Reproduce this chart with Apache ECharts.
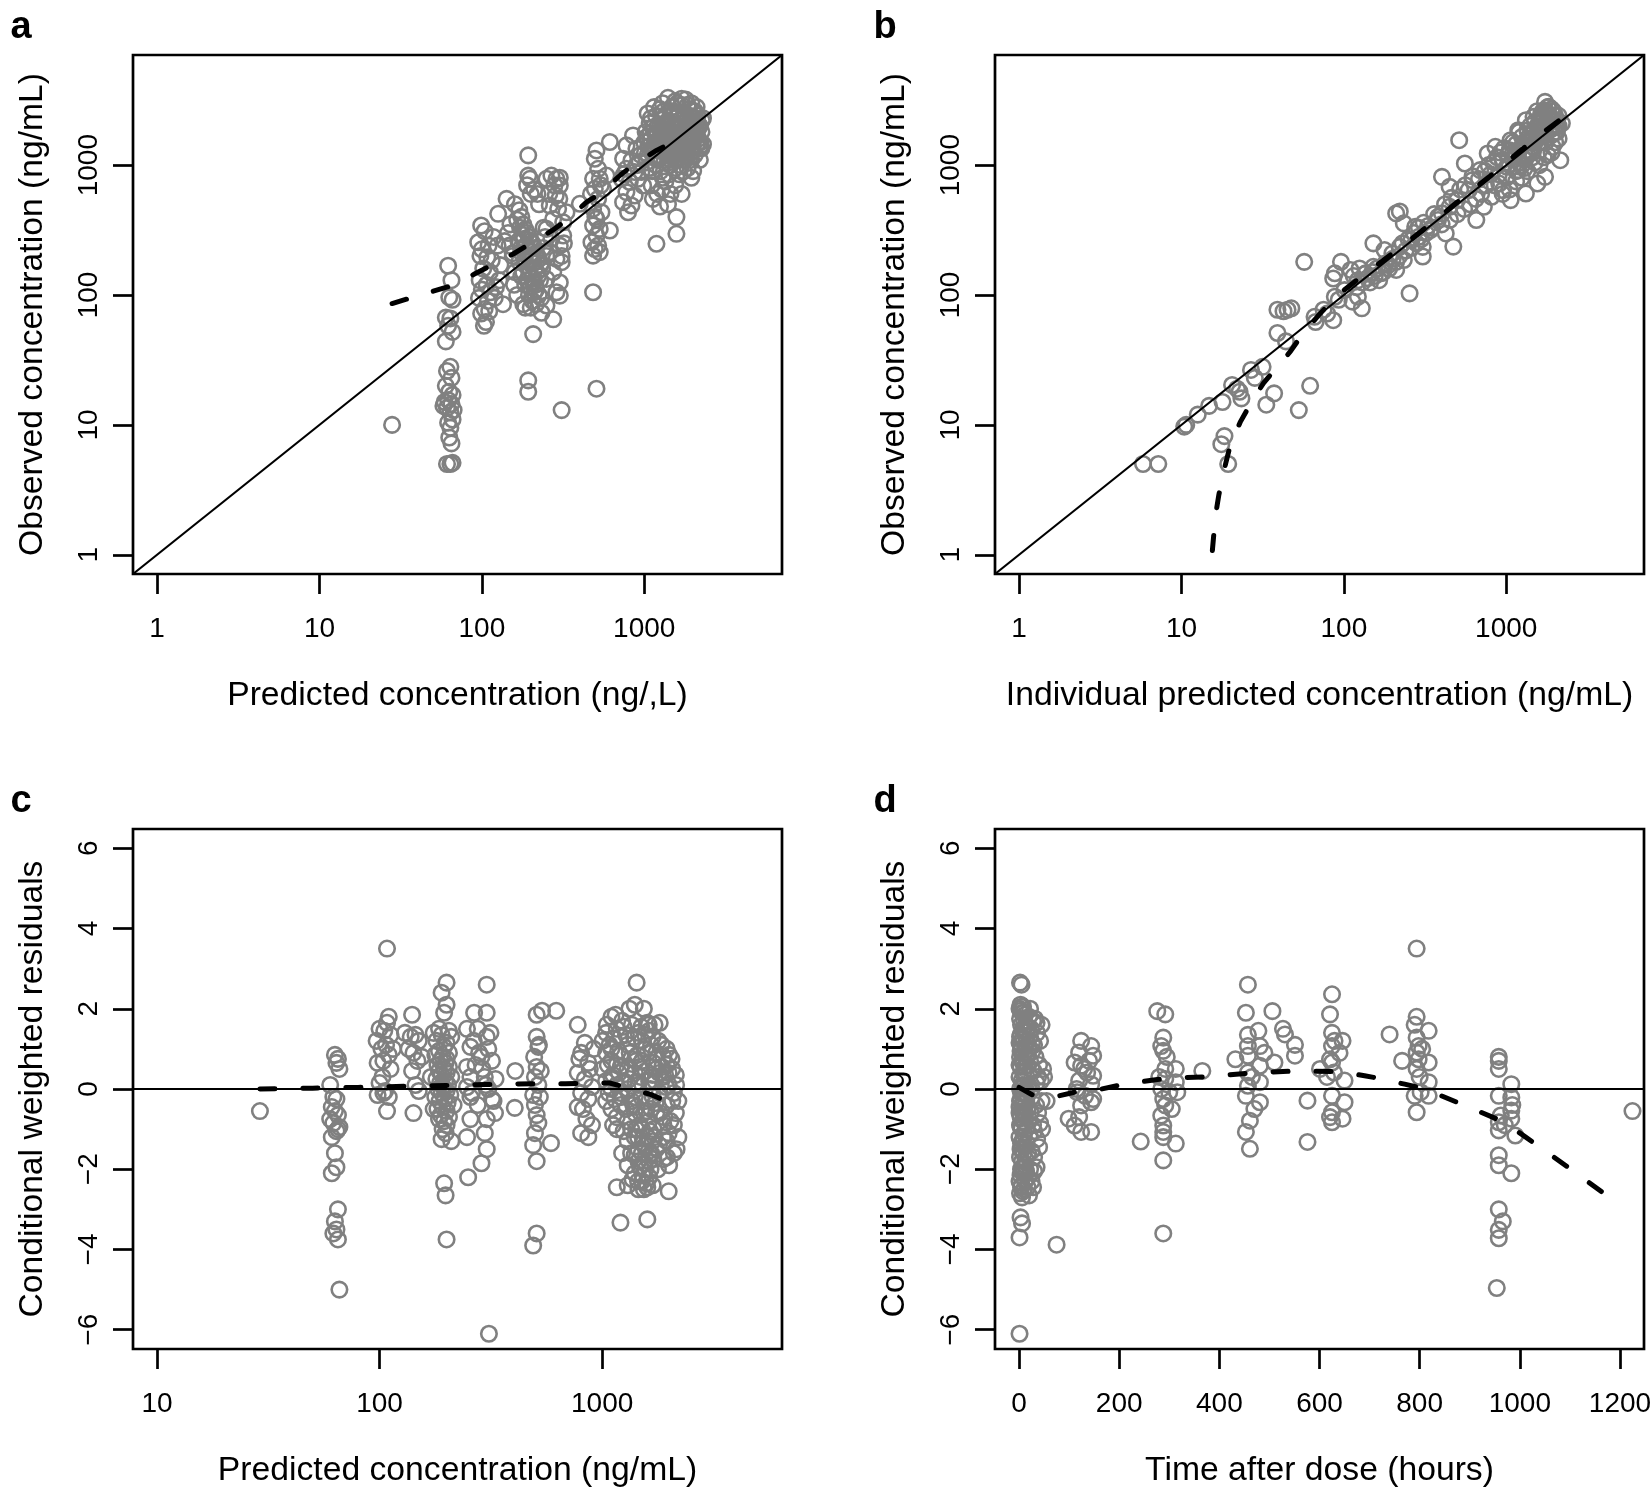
<!DOCTYPE html>
<html>
<head>
<meta charset="utf-8">
<script src="https://cdn.jsdelivr.net/npm/echarts@6/dist/echarts.min.js"></script>
<style>
html,body{margin:0;padding:0;background:#fff;}
#chart{width:1652px;height:1491px;}
</style>
</head>
<body>
<div id="chart"></div>
<script>
// ---------- tick labels ----------
const logTicksAB = [1, 10, 100, 1000];
const logTicksC = [10, 100, 1000];
const residTicks = [-6, -4, -2, 0, 2, 4, 6];
const timeTicks = [0, 200, 400, 600, 800, 1000, 1200];

// ---------- axis ranges ----------
const concRange = [0.711, 7050];
const cPredRange = [7.8, 6430];
const residRange = [-6.48, 6.48];
const timeRange = [-48, 1248];

// ---------- panel a: predicted vs observed ----------
const aPoints = [
[28,10],
[62,168],[65,130],[63,96],[66,92],[60,67],[64,66],[62,58],[66,52],[60,44],[64,28],[61,26],[65,23],[60,20],[63,18],[66,17],[59,15],[62,15.5],[65,14.5],[61,13.5],[64,12.5],[66,11],[62,10.4],[64,9.5],[63,8],[65,7.2],[61,5],[64,5],[66,5.1],[58,14],[67,13],
[99,343],[104,310],[126,422],[142,550],[95,255],[100,225],[110,240],[98,200],[108,195],[115,185],[102,160],[112,150],[97,130],[107,120],[100,110],[113,105],[96,95],[109,90],[104,78],[111,75],[99,72],[106,62],[103,58],[118,280],[125,240],[130,170],[128,130],[122,115],[120,95],[135,85],[150,350],[145,300],[138,260],[148,240],[155,210],
[160,500],[170,450],[175,400],[180,350],[185,320],[190,300],[195,280],[200,260],[205,250],[210,230],[215,210],[220,200],[225,190],[230,170],[235,160],[165,380],[172,330],[178,290],[182,270],[188,240],[192,220],[198,200],[202,185],[208,175],[212,160],[218,150],[222,140],[228,130],[168,260],[174,230],[176,210],[184,190],[186,170],[194,160],[196,145],[204,135],[206,125],[214,120],[216,110],[224,100],[232,95],[170,180],[180,150],[190,130],[200,115],[210,105],[175,140],[185,120],[195,100],[205,90],[215,85],[165,100],[180,85],[160,150],[155,200],[158,120],[200,600],[190,700],[210,650],[193,1190],[193,830],[198,785],[240,330],[245,280],[250,200],[238,230],[185,80],[200,80],[220,600],[225,500],
[250,785],[268,832],[288,785],[302,800],[302,697],[285,584],[262,489],[295,461],[275,385],[317,363],[250,323],[268,271],[302,240],[262,214],[288,190],[310,179],[275,150],[250,133],[302,125],[288,105],[250,83],[275,65],[233,73],[302,99],[317,287],[332,434],[280,700],[300,550],[260,600],[320,250],[310,200],
[310,13],[193,22],[193,18],[207,50],
[508,1298],[496,1120],[520,937],[484,785],[532,785],[496,657],[558,657],[520,550],[484,461],[545,434],[508,385],[484,343],[532,323],[508,287],[473,255],[520,240],[496,226],[532,214],[484,201],[614,1507],[401,504],[614,314],[484,105],[508,19],[585,832],[470,600],[540,700],[500,400],
[853,1694],[777,1420],[895,1339],[741,1120],[834,1087],[938,1057],[777,937],[873,885],[724,785],[814,741],[916,785],[777,620],[873,584],[741,519],[834,489],[795,434],[960,885],[984,697],[900,1000],[950,1200],[750,850],
[1000,1500],[1020,1800],[1050,1200],[1080,2100],[1100,1600],[1120,900],[1150,1350],[1180,2400],[1200,1700],[1220,1100],[1250,2000],[1280,1450],[1300,800],[1320,2600],[1350,1900],[1380,1250],[1400,2200],[1420,1550],[1450,1000],[1480,2800],[1500,1800],[1520,1300],[1550,2300],[1580,1650],[1600,1150],[1620,2500],[1650,1950],[1680,1400],[1700,2900],[1720,2100],[1750,1600],[1780,1200],[1800,2400],[1820,1800],[1850,1350],[1880,2700],[1900,2000],[1920,1500],[1950,2300],[1980,1700],[2000,2600],[2050,1900],[2100,2200],[2150,1600],[2200,2000],[2250,1800],[2300,1450],[1030,1050],[1060,1400],[1090,1750],[1130,1950],[1160,1500],[1190,1150],[1230,1350],[1260,1650],[1290,2250],[1330,1050],[1360,1500],[1390,1750],[1430,1300],[1460,2050],[1490,1150],[1530,1550],[1560,950],[1590,2000],[1630,1350],[1660,1750],[1690,1000],[1730,1450],[1760,2500],[1790,1550],[1830,1150],[1860,1650],[1890,2150],[1930,1250],[1960,1900],[1990,1400],[2080,1650],[2130,2400],[2180,1350],[1110,700],[1200,600],[1280,650],[1350,750],[1450,600],[1550,700],[1650,850],[1750,900],[1850,950],[1950,1100],[2050,1200],[1400,3300],[1550,3100],[1800,3200],[1950,3000],[1150,2800],[1300,3000],[2100,2800],[1050,2500],[1950,800],[2200,1100],[1189,248],[1578,296],[1578,398],[1130,550],[1250,480],[1400,500],[1700,600],[2000,900],
[1010,1250],[1040,1650],[1070,950],[1100,2300],[1140,1150],[1170,1750],[1210,2000],[1240,1500],[1270,1150],[1310,1700],[1340,2400],[1370,1600],[1410,1050],[1440,1800],[1470,1400],[1510,2500],[1540,1900],[1570,1400],[1610,1700],[1640,2200],[1670,1550],[1710,1250],[1740,1900],[1770,2300],[1810,1400],[1840,2000],[1870,1550],[1910,2400],[1940,1650],[1970,2100],[2020,1750],[2060,2300],[2110,1800],[2160,2050],[2210,1500],[2260,2200],[1120,1300],[1180,1000],[1260,900],[1340,1400],[1420,850],[1500,1250],[1580,1100],[1660,1300],[1740,1100],[1820,1300],[1900,1150],[2000,1300],[2100,1450],[2250,1350],[1600,3000],[1700,3250],[1450,2600],[1250,2700],[1850,2900],[2050,2600],[2300,2300]
];
const aSmooth = [[28,86],[65,118],[90,145],[156,207],[197,247],[270,313],[330,374],[441,519],[532,601],[707,832],[873,1025],[1189,1298],[1507,1507]];

// ---------- panel b: individual predicted vs observed ----------
const bPoints = [
[5.8,5],[7.2,5],[10.4,9.7],[10.7,10],[12.6,12],[14.8,14],[17.9,15],[18.4,8.2],[17.6,7.1],[19.4,5],
[20.5,20.3],[22.8,18],[23.4,16],[22,19],[26.8,26.5],[31.6,28],[28.3,23],[33.3,14.3],[37.2,17.5],[62,20],[52.8,13],
[39,77],[42.5,75],[45,77],[47.5,79],[39,51],[44,44],[57,180],
[66,68],[67,62],[75,77],[86,64],[79,72],[88,97],[93,92],[101,109],[113,89],[129,79],[122,97],
[86,134],[88,147],[96,180],[110,156],[122,130],[152,250],[254,103],
[136,147],[152,165],[169,147],[188,170],[210,156],[234,186],[199,209],[178,222],[221,235],[261,265],[290,281],[234,356],[210,425],[221,440],[275,335],[306,235],[306,198],[341,316],[380,378],[402,425],[448,478],[424,298],[472,236],[402,813],[448,680],[499,538],[556,1030],[587,642],[620,767],[690,915],[654,378],[769,1230],[857,1384],[728,478],[812,571],[904,722],[1009,971],[1123,1159],[1064,1556],[1186,1859],[1321,2219],[1472,2354],[1641,2497],[1733,3070],[1829,2811],[2037,1972],[1930,1384],[2151,1092],[1733,813],[1555,722],[1321,605],[1186,915],[1064,538],[955,642],[513,1556],
[1100,1100],[1200,1300],[1300,1500],[1400,1700],[1500,1900],[1600,2100],[1700,2300],[1800,2500],[1900,2700],[2000,2400],[2100,2000],[1250,1000],[1350,1200],[1450,1400],[1550,1600],[1650,1800],[1750,2000],[1850,2200],[1950,2200],[1150,900],[1300,950],[1450,1150],[1600,1300],[1750,1500],[1900,1700],[2050,1800],[1000,800],[950,1100],[900,850],[1050,1300],[1150,1450],[1250,1650],[1350,1850],[1500,2150],[1650,2400],[1800,2800],[1700,2650],[1550,2600],[1400,2000],[1200,1800],[1100,1500],[1600,1000],[1800,1200],[2000,1500],[2100,1600],[1900,1250],[1700,1150],[1500,1050],[1350,900],[1250,800],[1150,750],[1050,650],[950,600],[850,700],[800,850],[750,700],[700,600],[650,550],[600,500],[550,460],[500,420],[450,380],[400,350],[350,330],[320,300],[300,270],[280,250],[260,230],[240,220],[220,200],[200,190],[180,175],[160,160],[150,150],[140,135],[130,125],[120,115],[115,140],[125,160],[135,145],[145,125],[155,140],[165,130],[175,150],[190,160],[210,180],[230,250],[250,270],[270,300],[290,330],[310,360],[330,340],[360,420],[380,400],[420,500],[460,560],[520,650],[560,700],[620,820],[680,780],[740,900],[780,1000],[840,1050],[880,1150],[920,1250],[970,1350],[1030,1200],
[1300,1200],[1400,1300],[1500,1500],[1600,1700],[1700,1900],[1800,2100],[1900,2300],[2000,2000],[2100,2400],[2200,2100],[1250,1400],[1150,1200],[1050,1000],[1450,1800],[1550,2000],[1650,2200],[1750,2600],[1850,2400],[1950,2600],[2050,2200],[1350,1600],[1450,1250],[1600,1500],[1750,1700],[1900,1900],[2000,1800],[1100,1250],[1200,1050],[1300,1100],[1400,1500]
];
const bSmooth = [[15.5,1.08],[16.2,2],[17,2.9],[18.3,4.5],[20,7],[23,10.5],[27,15],[32,21],[38,27],[47,37],[55,49],[70,70],[90,98],[120,130],[200,210],[300,310],[500,520],[800,830],[1200,1270],[1700,1800],[2200,2290]];

// ---------- panel c: CWRES vs predicted ----------
const cPoints = [
[29,-0.55],
[63,0.85],[65,0.75],[64,0.65],[66,0.5],[60,0.1],[62,-0.2],[64,-0.25],[61,-0.45],[63,-0.55],[65,-0.65],[60,-0.75],[62,-0.85],[66,-0.95],[64,-1.05],[61,-1.2],[65,-1.0],[63,-1.6],[64,-1.95],[61,-2.1],[65,-3.0],[63,-3.3],[64,-3.5],[65,-3.75],[62,-3.6],[66,-5.0],
[108,3.5],[110,1.8],[108,1.65],[100,1.5],[105,1.45],[112,1.35],[97,1.2],[107,1.1],[102,1.0],[110,0.85],[104,0.7],[98,0.65],[112,0.5],[100,0.15],[106,-0.05],[98,-0.15],[110,-0.2],[104,-0.1],[108,-0.55],[115,1.0],[103,0.3],
[140,1.85],[145,1.35],[138,1.3],[150,1.2],[142,0.9],[148,0.7],[140,0.45],[145,0.1],[150,-0.05],[142,-0.6],[130,1.4],[155,0.8],[135,1.0],
[200,2.65],[190,2.4],[200,2.1],[195,1.9],[185,1.5],[205,1.45],[175,1.4],[190,1.35],[210,1.3],[180,1.2],[200,1.15],[195,1.05],[185,0.95],[205,0.9],[178,0.85],[192,0.8],[200,0.75],[188,0.7],[198,0.65],[182,0.6],[205,0.55],[195,0.5],[185,0.45],[200,0.4],[190,0.35],[210,0.3],[180,0.25],[197,0.2],[187,0.15],[203,0.1],[193,0.05],[183,0.0],[200,-0.05],[190,-0.1],[208,-0.15],[178,-0.2],[196,-0.25],[186,-0.3],[202,-0.35],[192,-0.45],[182,-0.5],[200,-0.55],[188,-0.65],[205,-0.7],[195,-0.8],[185,-0.75],[200,-0.9],[192,-1.0],[198,-1.1],[190,-1.25],[210,-1.3],[195,-2.35],[198,-2.65],[200,-3.75],[215,-0.4],[170,0.3],[175,-0.5],
[266,1.9],[303,2.6],[303,1.9],[247,1.5],[276,1.5],[303,1.3],[256,1.05],[308,1.0],[287,0.8],[247,0.55],[320,0.7],[256,0.3],[297,0.3],[332,0.25],[247,0.05],[308,0.0],[256,-0.2],[320,-0.25],[276,-0.4],[303,-0.75],[256,-0.75],[247,-1.2],[297,-1.1],[303,-1.5],[287,-1.85],[250,-2.2],[310,-6.1],[280,0.9],[265,1.2],[315,1.4],[290,0.5],[270,0.6],[325,-0.3],[260,-0.1],[300,0.1],[330,-0.6],
[407,0.45],[405,-0.47],
[508,1.85],[537,1.95],[622,1.95],[508,1.3],[517,1.05],[508,0.55],[499,0.3],[517,0.1],[490,-0.15],[499,-0.4],[508,-0.65],[517,-0.85],[499,-1.1],[490,-1.4],[589,-1.35],[508,-1.8],[508,-3.6],[490,-3.9],[520,1.1],[495,0.8],[530,0.45],[525,-0.2],
[777,1.6],[836,1.15],[805,0.9],[867,0.65],[777,0.4],[836,0.25],[900,0.05],[805,-0.1],[867,-0.25],[777,-0.45],[850,-0.75],[900,-0.9],[805,-1.1],[867,-1.2],[916,1.0],[790,0.75],[880,0.5],[820,-0.5],
[1429,2.65],[1327,2.0],[1402,2.1],[1596,1.65],[1815,1.65],[1101,1.8],[1164,1.5],[1042,1.4],[1004,1.2],[1209,1.3],[1303,1.1],[1456,1.4],[1510,1.2],[1566,1.0],[1626,1.45],[1687,1.3],[1750,0.9],[1884,0.8],[1954,0.6],[2066,0.5],[2144,0.35],[1042,0.9],[1101,0.7],[1164,0.6],[1209,0.85],[1303,0.5],[1402,0.4],[1510,0.7],[1626,0.2],[1750,0.5],[1884,0.3],[1991,0.1],[1004,0.5],[1042,0.2],[1101,0.3],[1164,0.1],[1209,-0.1],[1303,0.0],[1402,-0.2],[1456,0.1],[1566,-0.3],[1687,-0.2],[1815,-0.1],[1954,-0.4],[2066,-0.3],[2144,-0.6],[1042,-0.3],[1101,-0.5],[1164,-0.7],[1209,-0.4],[1303,-0.8],[1402,-0.6],[1510,-1.0],[1626,-0.8],[1750,-0.6],[1884,-0.9],[1991,-1.1],[2100,-0.9],[1164,-1.0],[1303,-1.3],[1402,-1.2],[1456,-1.5],[1510,-1.6],[1566,-1.4],[1626,-1.8],[1687,-1.3],[1750,-1.5],[1884,-1.2],[1954,-1.7],[2100,-1.6],[1303,-1.9],[1402,-2.1],[1456,-1.8],[1510,-2.3],[1566,-2.0],[1626,-2.2],[1687,-2.4],[1884,-1.75],[1164,-2.45],[1303,-2.4],[1456,-2.5],[1596,-2.45],[1991,-2.55],[1209,-3.33],[1596,-3.25],[1101,0.0],[1350,0.75],[1480,0.55],[1700,0.65],[1850,1.1],[1950,1.0],[2000,0.85],[1360,1.6],[1250,1.55],[1150,1.85],[1540,2.0],[1620,1.6],[1380,-0.4],[1540,-0.6],[1700,-1.0],[1480,-0.9],[1600,-1.2],[1420,-1.0],[1350,-1.6],[1550,-1.85],[1660,-1.6],[1520,-2.15],[1450,-2.3],[1580,-2.35],
[1050,1.6],[1080,1.1],[1130,1.25],[1180,0.95],[1230,1.7],[1280,1.35],[1330,0.9],[1390,1.3],[1440,0.85],[1500,1.55],[1560,1.35],[1600,0.9],[1660,1.1],[1720,1.6],[1790,1.2],[1860,0.55],[1920,0.35],[2050,0.75],[2150,0.1],[1060,0.6],[1120,0.35],[1190,0.4],[1250,0.2],[1330,0.25],[1410,0.15],[1490,0.3],[1570,0.45],[1650,0.0],[1730,0.2],[1800,0.4],[1940,0.05],[2100,-0.1],[1070,-0.1],[1140,-0.25],[1220,-0.2],[1280,-0.5],[1360,-0.3],[1430,-0.45],[1500,-0.2],[1580,-0.55],[1660,-0.5],[1740,-0.35],[1820,-0.6],[1900,-0.7],[2030,-0.8],[1120,-0.9],[1250,-1.05],[1350,-1.0],[1450,-1.2],[1530,-1.35],[1640,-1.05],[1720,-1.2],[1800,-1.4],[1950,-1.3],[2200,-1.2],[1230,-1.6],[1400,-1.65],[1480,-1.95],[1620,-1.55],[1700,-1.75],[1780,-2.0],[1370,-2.25],[1540,-2.5],[1650,-2.0],[2000,-1.9],[2160,-1.5],[1100,1.0],[1210,0.55],[1420,0.7],[1680,0.35],[1990,0.4],[2200,-0.3]
];
const cSmooth = [[29,0.0],[50,0.02],[80,0.04],[135,0.07],[200,0.09],[300,0.11],[500,0.13],[683,0.13],[858,0.15],[1080,0.15],[1300,0.03],[1660,-0.14],[1990,-0.33]];

// ---------- panel d: CWRES vs time ----------
const dPoints = [
[2,2.65],[5,2.6],[3,2.1],[8,2.05],[1,2.0],[6,1.9],[12,1.85],[20,1.8],[28,1.7],[35,1.65],[45,1.6],[2,1.75],[4,1.6],[9,1.5],[15,1.45],[3,1.35],[7,1.25],[22,1.3],[30,1.1],[1,1.15],[5,1.0],[10,0.9],[18,0.85],[2,0.8],[6,0.7],[40,0.6],[48,0.5],[3,0.55],[8,0.4],[14,0.35],[25,0.5],[1,0.3],[5,0.2],[11,0.1],[35,0.15],[2,0.0],[7,-0.1],[16,-0.15],[4,-0.25],[9,-0.35],[45,-0.3],[1,-0.45],[6,-0.55],[12,-0.6],[3,-0.7],[8,-0.8],[20,-0.75],[2,-0.9],[5,-1.0],[10,-1.1],[30,-1.05],[1,-1.2],[7,-1.3],[15,-1.35],[40,-1.45],[3,-1.5],[9,-1.6],[25,-1.55],[2,-1.7],[6,-1.8],[12,-1.9],[35,-1.95],[4,-2.0],[8,-2.1],[18,-2.2],[30,-2.05],[1,-2.3],[5,-2.4],[10,-2.5],[28,-2.45],[2,-2.6],[6,-2.7],[3,-3.2],[6,-3.35],[1,-3.7],[75,-3.88],[1,-6.1],[22,2.0],[32,1.75],[15,1.2],[25,0.0],[38,0.3],[42,-0.85],[20,-2.65],
[3,1.95],[10,1.7],[14,1.6],[18,1.55],[24,1.5],[36,1.4],[42,1.2],[4,1.1],[12,1.05],[20,1.0],[27,0.95],[33,0.8],[8,0.65],[16,0.6],[22,0.7],[29,0.45],[44,0.2],[13,0.0],[19,0.1],[26,-0.2],[34,-0.4],[10,-0.45],[17,-0.5],[23,-0.6],[28,-0.9],[14,-1.0],[21,-1.15],[36,-1.25],[4,-1.35],[11,-1.45],[18,-1.6],[30,-1.7],[7,-1.95],[14,-2.05],[22,-2.0],[3,-2.15],[12,-2.3],[17,-2.45],[25,-2.3],[8,-2.55],[4,-2.45],[13,-1.75],[5,-1.5],[9,-1.2],[3,-0.95],[1,-0.6],[4,-0.1],[6,0.1],[1,0.6],[3,0.95],[7,1.45],[9,1.9],[5,2.05],[2,1.3],[15,0.75],[11,0.55],[2,-0.3],[8,-0.6],[26,1.15],[38,-0.6],[46,-1.0],[50,0.3],[55,-0.3],
[124,1.2],[144,1.07],[120,0.91],[148,0.83],[111,0.66],[124,0.58],[136,0.41],[148,0.33],[120,0.21],[144,0.12],[116,-0.08],[132,-0.17],[148,-0.25],[124,-0.41],[144,-0.33],[99,-0.74],[111,-0.91],[124,-1.07],[144,-1.07],[120,-0.7],[130,0.5],[140,0.7],[115,0.0],
[276,1.94],[292,1.86],[288,1.28],[284,1.07],[288,0.95],[292,0.5],[313,0.5],[292,0.25],[313,0.17],[284,0.0],[300,-0.08],[316,-0.08],[288,-0.25],[292,-0.41],[284,-0.66],[288,-0.91],[288,-1.07],[288,-1.2],[313,-1.36],[243,-1.31],[288,-1.78],[288,-3.6],[366,0.45],[295,0.8],[305,-0.5],[280,0.3],
[457,2.6],[453,1.9],[506,1.94],[457,1.35],[478,1.45],[527,1.5],[531,1.36],[551,1.1],[551,0.83],[457,1.07],[481,1.07],[432,0.74],[457,0.83],[510,0.66],[481,0.58],[457,0.41],[481,0.17],[457,0.08],[453,-0.17],[481,-0.33],[461,-0.79],[453,-1.07],[461,-1.49],[576,-0.29],[576,-1.32],[465,0.3],[470,-0.5],[490,0.9],
[625,2.36],[621,1.86],[625,1.4],[646,1.2],[625,1.07],[621,0.74],[601,0.5],[625,0.66],[629,0.41],[650,0.21],[625,-0.17],[650,-0.33],[625,-0.58],[621,-0.7],[646,-0.74],[625,-0.83],[640,0.9],[615,0.3],[630,1.2],
[794,3.5],[794,1.8],[790,1.6],[740,1.36],[818,1.45],[794,1.28],[798,1.07],[794,0.91],[798,0.74],[765,0.7],[818,0.66],[794,0.5],[818,0.17],[802,-0.08],[818,-0.17],[790,-0.17],[794,-0.58],[805,1.0],[800,0.3],
[958,0.8],[958,0.7],[958,0.5],[983,0.12],[958,-0.17],[983,-0.21],[983,-0.54],[962,-0.66],[983,-0.74],[958,-0.83],[958,-1.03],[991,-1.16],[958,-1.65],[958,-1.9],[983,-2.1],[958,-3.0],[966,-3.3],[958,-3.51],[958,-3.72],[954,-4.96],[985,-0.4],[970,-0.9],
[1225,-0.55]
];
const dSmooth = [[0,0.04],[30,-0.17],[80,-0.17],[125,-0.04],[165,0.0],[210,0.12],[290,0.26],[380,0.31],[465,0.4],[550,0.45],[640,0.43],[690,0.33],[725,0.25],[770,0.12],[810,0.0],[890,-0.41],[970,-0.83],[1040,-1.45],[1110,-2.07],[1185,-2.76]];

// ---------- styling ----------
const FONT = '"Liberation Sans", Arial, Helvetica, sans-serif';
const TITLE_SIZE = 33.7;
const TICK_SIZE = 28;
const BOX_W = 2.7;
const GRAY = '#808080';

const grids = [
  {left: 133, top: 55, width: 649, height: 519},
  {left: 995, top: 55, width: 649, height: 519},
  {left: 133, top: 829, width: 649, height: 520},
  {left: 995, top: 829, width: 649, height: 520}
].map(g => Object.assign({show: true, borderColor: '#000', borderWidth: BOX_W, backgroundColor: 'transparent', containLabel: false, outerBoundsMode: 'none'}, g));

const minusFmt = v => String(Math.round(v)).replace('-', '\u2212');

function makeAxis(opts) {
  const isY = opts.dim === 'y';
  return {
    type: opts.type,
    gridIndex: opts.grid,
    position: isY ? 'left' : 'bottom',
    min: opts.range[0],
    max: opts.range[1],
    name: opts.name,
    nameLocation: 'middle',
    nameGap: isY ? 83 : 105,
    nameMoveOverlap: false,
    nameTextStyle: {fontSize: TITLE_SIZE, color: '#000', fontFamily: FONT},
    axisLine: {show: false, onZero: false},
    axisTick: {show: true, inside: false, length: 20, customValues: opts.ticks, lineStyle: {color: '#000', width: BOX_W}},
    axisLabel: {show: true, customValues: opts.ticks, rotate: isY ? 90 : 0, margin: isY ? 30 : 41,
      fontSize: TICK_SIZE, color: '#000', fontFamily: FONT, formatter: minusFmt, hideOverlap: false},
    splitLine: {show: false},
    minorTick: {show: false},
    minorSplitLine: {show: false}
  };
}

const xAxes = [
  makeAxis({dim: 'x', type: 'log', grid: 0, range: concRange, ticks: logTicksAB, name: 'Predicted concentration (ng/,L)'}),
  makeAxis({dim: 'x', type: 'log', grid: 1, range: concRange, ticks: logTicksAB, name: 'Individual predicted concentration (ng/mL)'}),
  makeAxis({dim: 'x', type: 'log', grid: 2, range: cPredRange, ticks: logTicksC, name: 'Predicted concentration (ng/mL)'}),
  makeAxis({dim: 'x', type: 'value', grid: 3, range: timeRange, ticks: timeTicks, name: 'Time after dose (hours)'})
];
const yAxes = [
  makeAxis({dim: 'y', type: 'log', grid: 0, range: concRange, ticks: logTicksAB, name: 'Observed concentration (ng/mL)'}),
  makeAxis({dim: 'y', type: 'log', grid: 1, range: concRange, ticks: logTicksAB, name: 'Observed concentration (ng/mL)'}),
  makeAxis({dim: 'y', type: 'value', grid: 2, range: residRange, ticks: residTicks, name: 'Conditional weighted residuals'}),
  makeAxis({dim: 'y', type: 'value', grid: 3, range: residRange, ticks: residTicks, name: 'Conditional weighted residuals'})
];

function scatter(i, data) {
  return {type: 'scatter', xAxisIndex: i, yAxisIndex: i, data: data, symbol: 'circle', symbolSize: 15.5,
    itemStyle: {color: 'rgba(0,0,0,0)', borderColor: GRAY, borderWidth: 2.6, opacity: 1},
    emphasis: {disabled: true}, silent: true, z: 2, clip: true};
}
function dashed(i, data) {
  return {type: 'line', xAxisIndex: i, yAxisIndex: i, data: data, symbol: 'none', showSymbol: false, smooth: false,
    lineStyle: {color: '#000', width: 5, type: [15, 28], cap: 'round', join: 'round'},
    emphasis: {disabled: true}, silent: true, z: 5, clip: true};
}
function refLine(i, data) {
  return {type: 'line', xAxisIndex: i, yAxisIndex: i, data: data, symbol: 'none', showSymbol: false,
    lineStyle: {color: '#000', width: 2.2, type: 'solid'}, emphasis: {disabled: true}, silent: true, z: 4, clip: true};
}

const series = [
  scatter(0, aPoints), refLine(0, [[concRange[0], concRange[0]], [concRange[1], concRange[1]]]), dashed(0, aSmooth),
  scatter(1, bPoints), refLine(1, [[concRange[0], concRange[0]], [concRange[1], concRange[1]]]), dashed(1, bSmooth),
  scatter(2, cPoints), refLine(2, [[cPredRange[0], 0], [cPredRange[1], 0]]), dashed(2, cSmooth),
  scatter(3, dPoints), refLine(3, [[timeRange[0], 0], [timeRange[1], 0]]), dashed(3, dSmooth)
];

const letters = [['a', 21, 28], ['b', 885, 28], ['c', 21, 802], ['d', 885, 802]];
const graphic = letters.map(l => ({
  type: 'text', x: l[1], y: l[2], silent: true,
  style: {text: l[0], fill: '#000', font: 'bold 38px ' + FONT, align: 'center', verticalAlign: 'middle'}
}));

const chart = echarts.init(document.getElementById('chart'), null, {renderer: 'canvas'});
chart.setOption({
  backgroundColor: '#fff',
  animation: false,
  grid: grids,
  xAxis: xAxes,
  yAxis: yAxes,
  series: series,
  graphic: graphic
});
</script>
</body>
</html>
